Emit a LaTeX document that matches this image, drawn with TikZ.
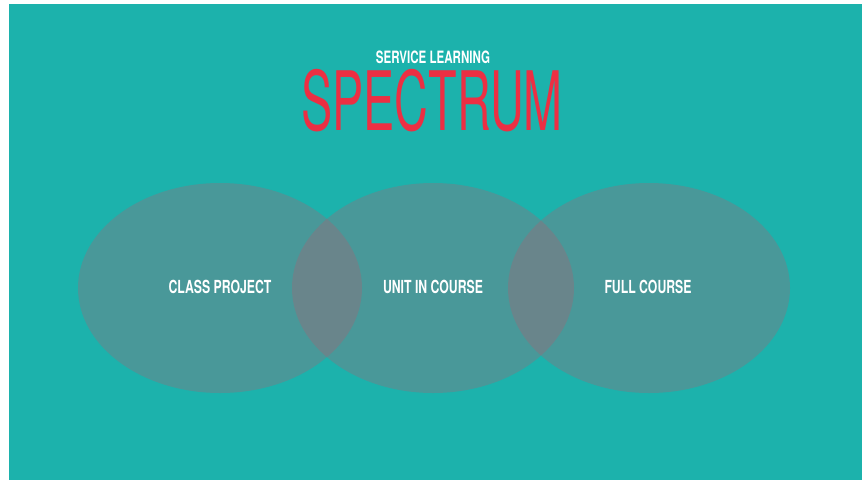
\documentclass[tikz,border=0pt]{standalone}
\usepackage{fontspec}
\setmainfont{TeX Gyre Heros}
\newfontfamily\titlefont[FakeStretch=0.57]{TeX Gyre Heros}
\newfontfamily\labelfont[FakeStretch=0.68,BoldFont={TeX Gyre Heros Bold}]{TeX Gyre Heros}
\usetikzlibrary{positioning}

\definecolor{bgteal}{RGB}{28,178,172}
\definecolor{spred}{RGB}{236,47,67}
\definecolor{blobtone}{RGB}{190,86,105}

\tikzset{
  blob/.style={fill=blobtone,fill opacity=0.28},
  lbl/.style={text=white,font=\labelfont\bfseries\fontsize{18}{18}\selectfont}
}

\begin{document}
\begin{tikzpicture}[x=1pt,y=-1pt]
		% Page
		\useasboundingbox[fill=white] (0,0) rectangle (867,480);
		\fill[bgteal] (9,4) rectangle (862,480);

		% Title
		\node[text=white,font=\labelfont\bfseries\fontsize{17}{17}\selectfont] (sub) at (433,57) {SERVICE LEARNING};
		\node[text=spred,font=\titlefont\fontsize{82}{82}\selectfont] (title) at (432,101) {SPECTRUM};

		% Three overlapping ellipses
		\fill[blob] (220,288) ellipse (142pt and 105pt);
		\fill[blob] (433,288) ellipse (141pt and 105pt);
		\fill[blob] (649,288) ellipse (141pt and 105pt);

		% Labels
		\node[lbl] (project) at (220,287) {CLASS PROJECT};
		\node[lbl] (unit) at (433,287) {UNIT IN COURSE};
		\node[lbl] (full) at (648,287) {FULL COURSE};
	\end{tikzpicture}
\end{document}
